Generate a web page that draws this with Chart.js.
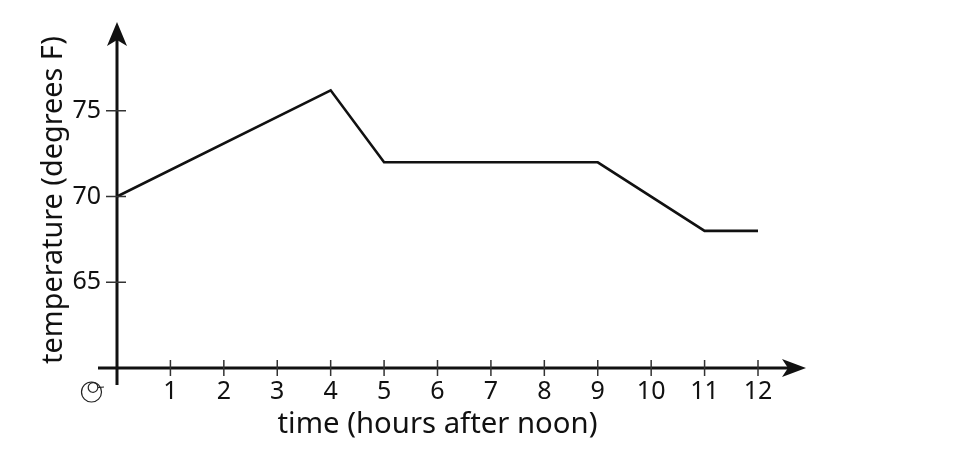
<!DOCTYPE html>
<html>
<head>
<meta charset="utf-8">
<script src="https://cdn.jsdelivr.net/npm/chart.js@4/dist/chart.umd.min.js"></script>
<style>
  html, body { margin: 0; padding: 0; background: #fff; }
  #wrap { width: 974px; height: 474px; }
</style>
</head>
<body>
<div id="wrap"><canvas id="chart" width="974" height="474"></canvas></div>
<script>
// data
const hours = [0, 4, 5, 9, 11, 12];
const temps = [70, 76.2, 72, 72, 68, 68];
const xTicks = [1, 2, 3, 4, 5, 6, 7, 8, 9, 10, 11, 12];
const yTicks = [65, 70, 75];

const ink = '#111';
const font = 'Noto Sans';

/**
 * Draw arrowed axes, crossing tick marks and the origin mark
 */
const axesPlugin = {
    id: 'axesPlugin',
    afterDatasetsDraw(chart) {
        const ctx = chart.ctx;
        const xs = chart.scales.x;
        const ys = chart.scales.y;
        const x0 = xs.getPixelForValue(0);
        const y0 = ys.getPixelForValue(60);
        const area = chart.chartArea;

        ctx.save();
        ctx.strokeStyle = ink;
        ctx.fillStyle = ink;

        // axis lines
        ctx.lineWidth = 3;
        ctx.beginPath();
        ctx.moveTo(x0, y0 + 17);
        ctx.lineTo(x0, area.top - 2);
        ctx.moveTo(x0 - 19, y0);
        ctx.lineTo(area.right + 34, y0);
        ctx.stroke();

        // arrow heads
        const yTip = area.top - 10;
        ctx.beginPath();
        ctx.moveTo(x0, yTip);
        ctx.lineTo(x0 + 10, yTip + 24);
        ctx.lineTo(x0, yTip + 18);
        ctx.lineTo(x0 - 10, yTip + 24);
        ctx.closePath();
        ctx.fill();

        const xTip = area.right + 48;
        ctx.beginPath();
        ctx.moveTo(xTip, y0);
        ctx.lineTo(xTip - 24, y0 - 9);
        ctx.lineTo(xTip - 18, y0);
        ctx.lineTo(xTip - 24, y0 + 9);
        ctx.closePath();
        ctx.fill();

        // tick marks crossing the axes
        ctx.lineWidth = 1.5;
        ctx.strokeStyle = '#333';
        ctx.beginPath();
        xTicks.forEach(v => {
            const px = xs.getPixelForValue(v);
            ctx.moveTo(px, y0 - 8);
            ctx.lineTo(px, y0 + 8);
        });
        yTicks.forEach(v => {
            const py = ys.getPixelForValue(v);
            ctx.moveTo(x0 - 11, py);
            ctx.lineTo(x0 + 9, py);
        });
        ctx.stroke();

        // origin mark
        ctx.lineWidth = 1.2;
        ctx.strokeStyle = '#222';
        ctx.beginPath();
        ctx.arc(x0 - 25.5, y0 + 24, 10, 0, Math.PI * 2);
        ctx.stroke();
        ctx.beginPath();
        ctx.arc(x0 - 24, y0 + 19.5, 4.8, Math.PI * 0.05, Math.PI * 2.0);
        ctx.lineTo(x0 - 13, y0 + 19);
        ctx.stroke();

        ctx.restore();
    }
};

document.addEventListener('DOMContentLoaded', function() {
    const points = hours.map((h, i) => ({ x: h, y: temps[i] }));

    new Chart(document.getElementById('chart'), {
        type: 'line',
        data: {
            datasets: [{
                data: points,
                borderColor: ink,
                borderWidth: 2.6,
                pointRadius: 0,
                tension: 0,
                fill: false
            }]
        },
        options: {
            responsive: false,
            animation: false,
            layout: { padding: { left: 0, top: 32, right: 216, bottom: 0 } },
            plugins: {
                legend: { display: false },
                tooltip: { enabled: false }
            },
            scales: {
                x: {
                    type: 'linear',
                    min: 0,
                    max: 12,
                    border: { display: false },
                    grid: { display: false, drawTicks: false },
                    afterBuildTicks: scale => { scale.ticks = xTicks.map(v => ({ value: v })); },
                    afterFit: scale => { scale.height = 106; },
                    ticks: {
                        color: ink,
                        padding: 9,
                        maxRotation: 0,
                        autoSkip: false,
                        font: { family: font, size: 25 }
                    },
                    title: {
                        display: true,
                        text: 'time (hours after noon)',
                        color: ink,
                        padding: { bottom: 32 },
                        font: { family: font, size: 29.3 }
                    }
                },
                y: {
                    min: 60,
                    max: 79.6,
                    border: { display: false },
                    grid: { display: false, drawTicks: false },
                    afterBuildTicks: scale => { scale.ticks = yTicks.map(v => ({ value: v })); },
                    afterFit: scale => { scale.width = 117; },
                    ticks: {
                        color: ink,
                        padding: 16,
                        font: { family: font, size: 25 }
                    },
                    title: {
                        display: true,
                        text: 'temperature (degrees F)',
                        color: ink,
                        padding: { top: 37 },
                        font: { family: font, size: 28.8 }
                    }
                }
            }
        },
        plugins: [axesPlugin]
    });
});
</script>
</body>
</html>
